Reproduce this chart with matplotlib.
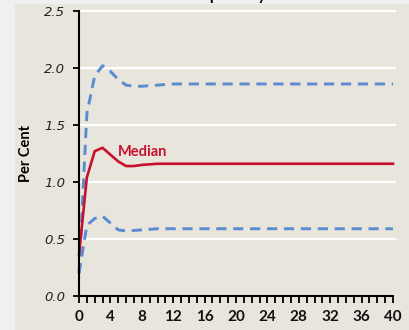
import matplotlib
matplotlib.use("Agg")
import matplotlib.pyplot as plt
from matplotlib.ticker import MultipleLocator
from matplotlib.patches import Rectangle

quarters = list(range(0, 41))
median = [0.36, 1.04, 1.27, 1.30, 1.24, 1.18, 1.14, 1.14, 1.15, 1.155, 1.16] + [1.16] * 30
upper = [0.20, 1.60, 1.93, 2.02, 1.97, 1.90, 1.85, 1.84, 1.84, 1.845, 1.85, 1.855] + [1.86] * 29
lower = [0.20, 0.62, 0.68, 0.70, 0.64, 0.58, 0.57, 0.575, 0.58, 0.585, 0.59, 0.59] + [0.59] * 29
yticks = [0.0, 0.5, 1.0, 1.5, 2.0, 2.5]
xticks = list(range(0, 41, 4))

W, H = 409, 330
fig = plt.figure(figsize=(W / 100, H / 100), dpi=100)
fig.patch.set_facecolor("#f0f0f0")
bg = Rectangle((15 / W, 0), 1 - 15 / W, 1 - 4 / H, transform=fig.transFigure,
               facecolor="#e8e6dc", edgecolor="none", zorder=-10)
fig.add_artist(bg)

ax = fig.add_axes([79 / W, 1 - 296 / H, (393 - 79) / W, (296 - 11) / H])
ax.set_facecolor("none")
ax.set_zorder(1)

for y in yticks[1:]:
    ax.axhline(y, xmin=0, xmax=1.005, color="white", lw=1.6, zorder=1, clip_on=False)

ax.plot(quarters, upper, color="#5b8bd0", lw=2.1, ls=(0, (3.5, 2.3)), zorder=3, clip_on=False)
ax.plot(quarters, lower, color="#5b8bd0", lw=2.1, ls=(0, (3.5, 2.3)), zorder=3, clip_on=False)
ax.plot(quarters, median, color="#c8102e", lw=1.9, zorder=4, clip_on=False)
ax.text(5.0, 1.26, "Median", color="#c8102e", fontsize=10.5, fontweight="bold",
        family="Lato", va="center", ha="left")

ax.set_xlim(0, 40)
ax.set_ylim(0, 2.5)
ax.set_yticks(yticks)
ax.set_yticklabels([f"{v:.1f}" for v in yticks], fontstyle="oblique", fontsize=9.5,
                   family="DejaVu Sans", color="#222222")
ax.set_xticks(xticks)
ax.set_xticklabels([str(v) for v in xticks], fontweight="bold", fontsize=11, family="Lato",
                   color="#111111")
ax.xaxis.set_minor_locator(MultipleLocator(1))
ax.tick_params(axis="x", which="both", direction="out", length=5, width=1.3, pad=5)
ax.tick_params(axis="y", which="major", direction="out", length=4, width=1.3, pad=6)

for s in ["top", "right"]:
    ax.spines[s].set_visible(False)
for s in ["left", "bottom"]:
    ax.spines[s].set_linewidth(1.5)
    ax.spines[s].set_color("black")
    ax.spines[s].set_zorder(5)

ax.set_ylabel("Per Cent", fontweight="bold", fontsize=10.5, family="Lato", labelpad=8)

fig.text(235 / W, 1.0, "quarterly", ha="center", va="baseline", fontsize=11,
         fontweight="bold", family="Lato")

fig.savefig("out.png", dpi=100, facecolor=fig.get_facecolor())
